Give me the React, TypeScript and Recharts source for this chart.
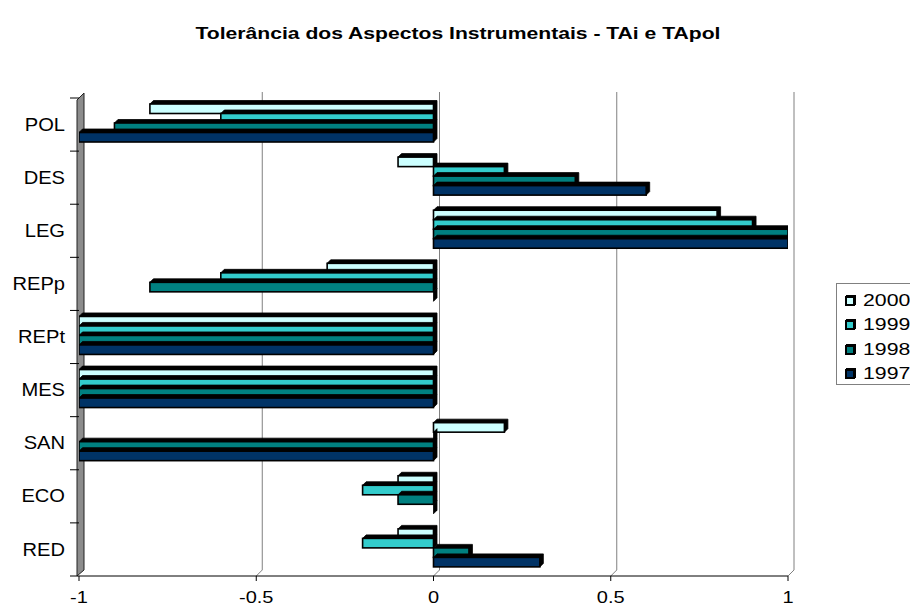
import React from 'react';
import { BarChart, Bar, XAxis, YAxis, CartesianGrid, ReferenceArea } from 'recharts';

const categories = ['POL', 'DES', 'LEG', 'REPp', 'REPt', 'MES', 'SAN', 'ECO', 'RED'];
const values2000 = [-0.8, -0.1, 0.8, -0.3, -1, -1, 0.2, -0.1, -0.1];
const values1999 = [-0.6, 0.2, 0.9, -0.6, -1, -1, 0, -0.2, -0.2];
const values1998 = [-0.9, 0.4, 1, -0.8, -1, -1, -1, -0.1, 0.1];
const values1997 = [-1, 0.6, 1, 0, -1, -1, -1, 0, 0.3];
const xTicks = [-1, -0.5, 0, 0.5, 1];

const series = [
  { key: '2000', values: values2000, color: '#CCFFFF' },
  { key: '1999', values: values1999, color: '#33CCCC' },
  { key: '1998', values: values1998, color: '#008080' },
  { key: '1997', values: values1997, color: '#003366' },
];

const data = categories.map((cat, i) => {
  const row: Record<string, string | number> = { cat };
  series.forEach((s) => {
    row[s.key] = s.values[i];
  });
  return row;
});

const FONT = '"Liberation Sans", Arial, sans-serif';
const WIDTH = 910;
const HEIGHT = 607;
const TOP = 98;
const X_AXIS_H = 31;
const PLOT_H = HEIGHT - TOP - X_AXIS_H;
const BAND = PLOT_H / categories.length;
const DEPTH = 3.5;

// bar with a black extruded top/right side
const Bar3D = (props: any) => {
  const { x, y, width, height, fill } = props;
  if (x == null || y == null) return null;
  const left = Math.min(x, x + width);
  const w = Math.abs(width);
  const top = y - 2;
  const h = height;
  const d = DEPTH;
  const pts = [
    [left, top],
    [left + d, top - d],
    [left + w + d, top - d],
    [left + w + d, top + h - d],
    [left + w, top + h],
    [left + w, top],
  ]
    .map((p) => p.join(','))
    .join(' ');
  return (
    <g>
      <polygon points={pts} fill="#000" stroke="#000" strokeWidth={0.8} />
      <rect x={left} y={top} width={w} height={h} fill={fill} stroke="#000" strokeWidth={1.6} />
    </g>
  );
};

// back-wall gridline with a short diagonal down to the floor edge
const GridLine = (props: any) => {
  const { x1, y1, y2 } = props;
  if (x1 < 90) return <g />;
  return (
    <g>
      <line x1={x1 + 6} y1={y1 - 6} x2={x1 + 6} y2={y2 - 6} stroke="#808080" strokeWidth={1} />
      <line x1={x1 + 6} y1={y2 - 6} x2={x1} y2={y2} stroke="#808080" strokeWidth={1} />
    </g>
  );
};

const SideWall = (props: any) => {
  const { x, y, height } = props;
  const pts = [
    [x - 2, y + 2],
    [x + 5, y - 5],
    [x + 5, y + height - 6],
    [x - 2, y + height],
  ]
    .map((p) => p.join(','))
    .join(' ');
  return <polygon points={pts} fill="#8c8c8c" stroke="#222" strokeWidth={1} />;
};

const XTick = ({ x, y, payload }: any) => (
  <text
    transform={`translate(${x},${y + 20}) scale(1.25,1)`}
    textAnchor="middle"
    fontSize={16}
    fontFamily={FONT}
    fill="#000"
  >
    {payload.value}
  </text>
);

const YTick = ({ x, y, payload, index }: any) => (
  <g>
    <text
      transform={`translate(${x},${y}) scale(1.15,1)`}
      textAnchor="end"
      dy="0.35em"
      fontSize={17.5}
      fontFamily={FONT}
      fill="#000"
    >
      {payload.value}
    </text>
    <line x1={x + 5} x2={x + 14} y1={y - BAND / 2} y2={y - BAND / 2} stroke="#000" />
    {index === categories.length - 1 && (
      <line x1={x + 5} x2={x + 14} y1={y + BAND / 2} y2={y + BAND / 2} stroke="#000" />
    )}
  </g>
);

const Legend3D = () => (
  <div
    style={{
      position: 'absolute',
      left: 836,
      top: 283,
      width: 90,
      height: 102,
      border: '1px solid #808080',
      boxSizing: 'border-box',
      fontFamily: FONT,
      fontSize: 17,
    }}
  >
    {series.map((s, i) => (
      <div
        key={s.key}
        style={{
          position: 'absolute',
          left: 8,
          top: 7 + i * 24.3,
          height: 20,
          display: 'flex',
          alignItems: 'center',
        }}
      >
        <span
          style={{
            display: 'inline-block',
            width: 10,
            height: 10,
            background: s.color,
            border: '2px solid #000',
            boxSizing: 'border-box',
            boxShadow: '1px -1px 0 #000',
          }}
        />
        <span
          style={{
            display: 'inline-block',
            marginLeft: 8,
            transform: 'scaleX(1.25)',
            transformOrigin: 'left center',
          }}
        >
          {s.key}
        </span>
      </div>
    ))}
  </div>
);

export default function App() {
  return (
    <div
      style={{
        position: 'fixed',
        left: 0,
        top: 0,
        width: WIDTH,
        height: HEIGHT,
        overflow: 'hidden',
        background: '#fff',
      }}
    >
      <div
        style={{
          position: 'absolute',
          left: 0,
          width: 916,
          top: 23,
          lineHeight: '20px',
          textAlign: 'center',
          fontFamily: FONT,
          fontWeight: 'bold',
          fontSize: 16.5,
          transform: 'scaleX(1.28)',
        }}
      >
        Tolerância dos Aspectos Instrumentais - TAi e TApol
      </div>
      <BarChart
        width={WIDTH}
        height={HEIGHT}
        data={data}
        layout="vertical"
        barSize={9.5}
        barGap={0}
        margin={{ top: TOP, right: 122, bottom: 0, left: 0 }}
      >
        <CartesianGrid horizontal={false} vertical={GridLine} />
        <XAxis
          type="number"
          domain={[-1, 1]}
          ticks={xTicks}
          allowDataOverflow
          height={X_AXIS_H}
          axisLine={{ stroke: '#000' }}
          tickLine={{ stroke: '#000' }}
          tickSize={5}
          tickMargin={2}
          tick={<XTick />}
        />
        <YAxis
          type="category"
          dataKey="cat"
          width={79}
          interval={0}
          axisLine={false}
          tickLine={false}
          tickSize={0}
          tickMargin={14}
          tick={<YTick />}
        />
        <ReferenceArea x1={-1} x2={-0.99} ifOverflow="visible" shape={<SideWall />} />
        {series.map((s) => (
          <Bar
            key={s.key}
            dataKey={s.key}
            fill={s.color}
            shape={<Bar3D />}
            isAnimationActive={false}
          />
        ))}
      </BarChart>
      <Legend3D />
    </div>
  );
}
